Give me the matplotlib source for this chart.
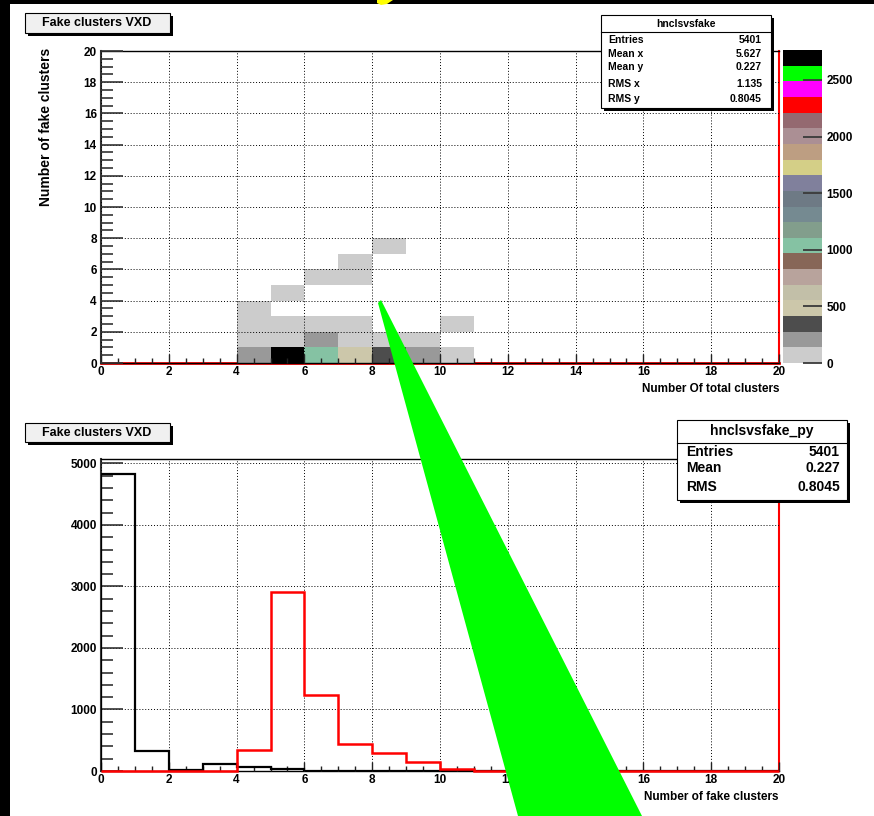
import numpy as np
import matplotlib
matplotlib.use("Agg")
import matplotlib.pyplot as plt
from matplotlib.colors import ListedColormap, Normalize
from matplotlib.patches import Rectangle, Polygon
from matplotlib.ticker import MultipleLocator

plt.rcParams['font.family'] = ['Liberation Sans', 'DejaVu Sans']
plt.rcParams['font.weight'] = 'bold'

W, H = 874, 816

# hnclsvsfake: filled cells of the 2D histogram (total clusters, fake clusters, entries)
cell_total = [4, 5, 6, 7, 8, 9, 10, 4, 5, 6, 7, 8, 9, 4, 5, 6, 7, 10, 4, 5, 6, 7, 7, 8]
cell_fake = [0, 0, 0, 0, 0, 0, 0, 1, 1, 1, 1, 1, 1, 2, 2, 2, 2, 2, 3, 4, 5, 5, 6, 7]
cell_counts = [160, 2765, 1037, 417, 279, 140, 32,
               71, 66, 173, 2, 8, 5,
               4, 7, 3, 2, 4,
               110, 72, 22, 13, 6, 3]

# old ROOT default palette, 20 levels from low to high
palette = ['#cccccc', '#999999', '#4d4d4d', '#ccc7aa', '#c2bfa8', '#b8a39c', '#876657',
           '#85c2a3', '#829e8c', '#758a91', '#6e7a85', '#80809c', '#d4cf87', '#bd9e82',
           '#ab8f94', '#946970', '#ff0000', '#ff00ff', '#00ff00', '#000000']

cbar_ticks = [0, 500, 1000, 1500, 2000, 2500]

stats_2d_name = "hnclsvsfake"
stats_2d = [("Entries", "5401"), ("Mean x", "5.627"), ("Mean y", "0.227"),
            ("RMS x", "1.135"), ("RMS y", "0.8045")]
stats_py_name = "hnclsvsfake_py"
stats_py = [("Entries", "5401"), ("Mean", "0.227"), ("RMS", "0.8045")]

edges = np.arange(21)
grid = np.zeros((20, 20))
np.add.at(grid, (cell_fake, cell_total), cell_counts)
proj_fake = grid.sum(axis=1)
proj_total = grid.sum(axis=0)


def fbox(x0, y0, x1, y1):
    return [x0 / W, 1 - y1 / H, (x1 - x0) / W, (y1 - y0) / H]


def fpt(x, y):
    return (x / W, 1 - y / H)


fig = plt.figure(figsize=(W / 100, H / 100), dpi=100)
fig.patch.set_facecolor('black')
fig.add_artist(Rectangle(fpt(10, 816), 864 / W, 812 / H, transform=fig.transFigure,
                         facecolor='white', edgecolor='none', zorder=-10))


def root_box(x0, y0, x1, y1, fill):
    # box with ROOT-style drop shadow
    fig.add_artist(Rectangle(fpt(x0 + 3, y1 + 3), (x1 - x0) / W, (y1 - y0) / H,
                             transform=fig.transFigure, facecolor='black',
                             edgecolor='none', zorder=4))
    fig.add_artist(Rectangle(fpt(x0, y1), (x1 - x0) / W, (y1 - y0) / H,
                             transform=fig.transFigure, facecolor=fill,
                             edgecolor='black', lw=0.8, zorder=5))


def style_axes(ax, ymajor, yminor):
    ax.set_xlim(0, 20)
    ax.xaxis.set_major_locator(MultipleLocator(2))
    ax.xaxis.set_minor_locator(MultipleLocator(0.5))
    ax.yaxis.set_major_locator(MultipleLocator(ymajor))
    ax.yaxis.set_minor_locator(MultipleLocator(yminor))
    ax.tick_params(axis='x', which='major', direction='in', length=6.5, width=1,
                   color='#222222', labelsize=8.5, pad=2)
    ax.tick_params(axis='x', which='minor', direction='in', length=3.5, width=1,
                   color='#222222')
    ax.tick_params(axis='y', which='major', direction='in', length=16, width=1.2,
                   color='#333333', labelsize=8.5, pad=3)
    ax.tick_params(axis='y', which='minor', direction='in', length=8.5, width=1.2,
                   color='#333333')
    ax.grid(True, which='major', color='black', linestyle=(0, (1, 2)), lw=0.7)
    ax.set_axisbelow(False)
    ax.spines['top'].set_linewidth(1)
    ax.spines['left'].set_color('#333333')
    ax.spines['left'].set_linewidth(1.5)
    ax.spines['bottom'].set_linewidth(1)
    ax.spines['right'].set_color('red')
    ax.spines['right'].set_linewidth(1.5)
    for lab in ax.get_xticklabels() + ax.get_yticklabels():
        lab.set_fontweight('bold')


# top pad: 2D occupancy
ax2d = fig.add_axes(fbox(101, 51, 779, 363))
cmap = ListedColormap(palette)
norm = Normalize(0, grid.max())
mesh = ax2d.pcolormesh(edges, edges, np.ma.masked_equal(grid, 0), cmap=cmap, norm=norm,
                       zorder=1)
ax2d.axhline(0, color='red', lw=2, zorder=0.5, clip_on=False)
ax2d.set_ylim(0, 20)
style_axes(ax2d, 2, 0.5)

cax = fig.add_axes(fbox(783, 50, 822, 363))
cb = fig.colorbar(mesh, cax=cax, boundaries=np.linspace(0, grid.max(), 21),
                  ticks=cbar_ticks)
cb.outline.set_visible(False)
cb.minorticks_off()
cax.tick_params(direction='in', length=14, width=1.3, color='#3a3a3a',
                labelsize=8.5, pad=3)

# bottom pad: projections
ax1d = fig.add_axes(fbox(101, 459, 779, 771))
ax1d.stairs(proj_fake, edges, color='black', lw=1.6, zorder=3)
ax1d.stairs(proj_total, edges, color='red', lw=1.8, zorder=4, clip_on=False)
ax1d.set_ylim(0, 1.05 * proj_fake.max())
style_axes(ax1d, 1000, 200)

# axis titles
fig.text(*fpt(779, 389), "Number Of total clusters", ha='right', va='center',
         fontsize=8.5, fontweight='bold')
fig.text(*fpt(46, 48), "Number of fake clusters", ha='center', va='top', rotation=90,
         fontsize=10, fontweight='bold')
fig.text(*fpt(778, 797), "Number of fake clusters", ha='right', va='center',
         fontsize=8.5, fontweight='bold')

# title boxes
for y0, y1 in [(13, 33), (423, 442)]:
    root_box(25, y0, 170, y1, '#f0f0f0')
    fig.text(*fpt(97, (y0 + y1) / 2), "Fake clusters VXD", ha='center', va='center',
             fontsize=9, fontweight='bold', zorder=6)

# stats box, 2D
root_box(601, 15, 771, 108, 'white')
fig.text(*fpt(686, 24), stats_2d_name, ha='center', va='center', fontsize=7.5,
         fontweight='bold', zorder=6)
fig.add_artist(plt.Line2D([601 / W, 771 / W], [1 - 32 / H, 1 - 32 / H],
                          transform=fig.transFigure, color='black', lw=0.8, zorder=6))
for (name, val), yy in zip(stats_2d, [40, 54, 67, 84, 99]):
    fig.text(*fpt(608, yy), name, ha='left', va='center', fontsize=7.5,
             fontweight='bold', zorder=6)
    fig.text(*fpt(762, yy), val, ha='right', va='center', fontsize=7.5,
             fontweight='bold', zorder=6)

# stats box, projection
root_box(677, 420, 847, 500, 'white')
fig.text(*fpt(762, 431), stats_py_name, ha='center', va='center', fontsize=10,
         fontweight='bold', zorder=6)
fig.add_artist(plt.Line2D([677 / W, 847 / W], [1 - 443 / H, 1 - 443 / H],
                          transform=fig.transFigure, color='black', lw=0.8, zorder=6))
for (name, val), yy in zip(stats_py, [452, 468, 487]):
    fig.text(*fpt(686, yy), name, ha='left', va='center', fontsize=10,
             fontweight='bold', zorder=6)
    fig.text(*fpt(840, yy), val, ha='right', va='center', fontsize=10,
             fontweight='bold', zorder=6)

# slide decorations: green pointer and yellow arrow tip
fig.add_artist(Polygon([fpt(378, 303), fpt(381, 300), fpt(642, 816), fpt(518, 816)],
                       transform=fig.transFigure, facecolor='#00ff00', edgecolor='none',
                       zorder=10))
fig.add_artist(Polygon([fpt(377, 0), fpt(393, 0), fpt(387, 4), fpt(381, 5), fpt(377, 3)],
                       transform=fig.transFigure, facecolor='#ffff00', edgecolor='none',
                       zorder=10))

fig.savefig('out.png', dpi=100, facecolor=fig.get_facecolor())
